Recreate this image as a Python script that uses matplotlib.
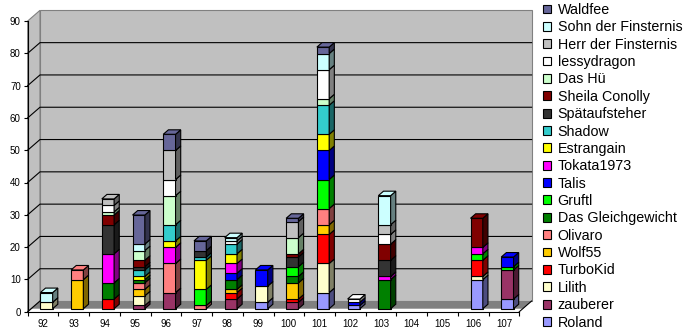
import numpy as np
import matplotlib
matplotlib.use("Agg")
import matplotlib.pyplot as plt
from matplotlib.patches import Polygon, Patch
from matplotlib.colors import to_rgb

plt.rcParams['font.family'] = ['Liberation Sans', 'DejaVu Sans']

categories = [92, 93, 94, 95, 96, 97, 98, 99, 100, 101, 102, 103, 104, 105, 106, 107]

# stacking order, bottom to top
names = ["Roland", "zauberer", "Lilith", "TurboKid", "Wolf55", "Olivaro",
         "Das Gleichgewicht", "Gruftl", "Talis", "Tokata1973", "Estrangain",
         "Shadow", "Spätaufsteher", "Sheila Conolly", "Das Hü", "lessydragon",
         "Herr der Finsternis", "Sohn der Finsternis", "Waldfee"]

roland      = [0, 0, 0, 0, 0, 0, 0, 2, 0, 5, 1, 0, 0, 0, 9, 3]
zauberer    = [0, 0, 0, 1, 5, 0, 3, 0, 2, 0, 0, 0, 0, 0, 0, 9]
lilith      = [2, 0, 0, 3, 0, 0, 0, 5, 0, 9, 0, 0, 0, 0, 1, 0]
turbokid    = [0, 0, 3, 0, 0, 0, 2, 0, 1, 9, 0, 0, 0, 0, 5, 0]
wolf55      = [0, 9, 0, 2, 0, 0, 1, 0, 5, 3, 0, 0, 0, 0, 0, 0]
olivaro     = [0, 3, 0, 2, 9, 1, 0, 0, 0, 5, 0, 0, 0, 0, 0, 0]
gleichgew   = [0, 0, 5, 1, 0, 0, 3, 0, 2, 0, 0, 9, 0, 0, 0, 0]
gruftl      = [0, 0, 0, 0, 0, 5, 0, 0, 3, 9, 0, 0, 0, 0, 2, 1]
talis       = [0, 0, 0, 0, 0, 0, 2, 5, 0, 9, 1, 0, 0, 0, 0, 3]
tokata      = [0, 0, 9, 0, 5, 0, 3, 0, 0, 0, 0, 1, 0, 0, 2, 0]
estrangain  = [0, 0, 0, 1, 2, 9, 3, 0, 0, 5, 0, 0, 0, 0, 0, 0]
shadow      = [0, 0, 0, 2, 5, 1, 3, 0, 0, 9, 0, 0, 0, 0, 0, 0]
spaet       = [0, 0, 9, 1, 0, 2, 0, 0, 3, 0, 0, 5, 0, 0, 0, 0]
sheila      = [0, 0, 3, 2, 0, 0, 0, 0, 1, 0, 0, 5, 0, 0, 9, 0]
dashue      = [0, 0, 1, 3, 9, 0, 0, 0, 5, 2, 0, 0, 0, 0, 0, 0]
lessy       = [0, 0, 2, 0, 5, 0, 1, 0, 0, 9, 1, 3, 0, 0, 0, 0]
herr        = [0, 0, 2, 0, 9, 0, 0, 0, 5, 0, 0, 3, 0, 0, 0, 0]
sohn        = [3, 0, 0, 2, 0, 0, 1, 0, 0, 5, 0, 9, 0, 0, 0, 0]
waldfee     = [0, 0, 0, 9, 5, 3, 0, 0, 1, 2, 0, 0, 0, 0, 0, 0]

series = [roland, zauberer, lilith, turbokid, wolf55, olivaro, gleichgew, gruftl,
          talis, tokata, estrangain, shadow, spaet, sheila, dashue, lessy, herr,
          sohn, waldfee]

colors = ["#9999FF", "#993366", "#FFFFCC", "#FF0000", "#FFCC00", "#FF8080",
          "#008000", "#00FF00", "#0000FF", "#FF00FF", "#FFFF00", "#33CCCC",
          "#333333", "#800000", "#CCFFCC", "#FFFFFF", "#C0C0C0", "#CCFFFF",
          "#666699"]

yticks = list(range(0, 100, 10))

# 3d look: full depth of the box in data units
DX, DY = 0.40, 3.3
BAR_W = 0.40
F0, F1 = 0.28, 0.70   # front / back depth of the bars


def shade(c, k):
    r, g, b = to_rgb(c)
    return (r * k, g * k, b * k)


fig = plt.figure(figsize=(6.9, 3.35), dpi=100)
ax = fig.add_axes([27.7 / 690, 23.3 / 335, 491.6 / 690, 290.7 / 335])
ax.set_xlim(categories[0] - 0.5, categories[-1] + 0.5)
ax.set_ylim(0, 90)
ax.patch.set_visible(False)

x0, x1 = categories[0] - 0.5, categories[-1] + 0.5
wall = "#C0C0C0"
edge = "#808080"

# back wall and left wall
ax.add_patch(Polygon([(x0 + DX, DY), (x1 + DX, DY), (x1 + DX, 90 + DY), (x0 + DX, 90 + DY)],
                     closed=True, fc=wall, ec=edge, lw=0.8, clip_on=False, zorder=1))
ax.add_patch(Polygon([(x0, 0), (x0 + DX, DY), (x0 + DX, 90 + DY), (x0, 90)],
                     closed=True, fc=wall, ec=edge, lw=0.8, clip_on=False, zorder=1))

for v in yticks[1:-1]:
    ax.plot([x0, x0 + DX, x1 + DX], [v, v + DY, v + DY], color="black", lw=0.8,
            clip_on=False, zorder=2)

# floor
ax.add_patch(Polygon([(x0 + F0 * DX, F0 * DY), (x1 + F0 * DX, F0 * DY), (x1 + DX, DY), (x0 + DX, DY)],
                     closed=True, fc="#808080", ec="none", clip_on=False, zorder=3))
ax.plot([x0, x0 + DX], [0, DY], color="black", lw=0.8, clip_on=False, zorder=3)
ax.plot([x1, x1 + DX], [0, DY], color="black", lw=0.8, clip_on=False, zorder=3)

# stacked 3d columns
bx, by = F0 * DX, F0 * DY
sx, sy = (F1 - F0) * DX, (F1 - F0) * DY
z = 4
for i, cat in enumerate(categories):
    left = cat - BAR_W / 2 + bx
    right = left + BAR_W
    base = by
    top_color = None
    for vals, c in zip(series, colors):
        h = vals[i]
        if h == 0:
            continue
        ax.add_patch(Polygon([(left, base), (right, base), (right, base + h), (left, base + h)],
                             closed=True, fc=c, ec="black", lw=0.8, clip_on=False, zorder=z))
        ax.add_patch(Polygon([(right, base), (right + sx, base + sy), (right + sx, base + h + sy), (right, base + h)],
                             closed=True, fc=shade(c, 0.5), ec="black", lw=0.8, clip_on=False, zorder=z))
        base += h
        top_color = c
    if top_color is not None:
        ax.add_patch(Polygon([(left, base), (right, base), (right + sx, base + sy), (left + sx, base + sy)],
                             closed=True, fc=top_color, ec="black", lw=0.8, clip_on=False, zorder=z))
    z += 1

# axes
for s in ["top", "right"]:
    ax.spines[s].set_visible(False)
ax.spines["left"].set_color("black")
ax.spines["bottom"].set_color("black")
ax.spines["left"].set_zorder(50)
ax.spines["bottom"].set_zorder(50)
ax.set_yticks(yticks)
ax.tick_params(axis="y", length=3, width=0.8, labelsize=7, pad=2)
ax.set_xticks(np.arange(x0, x1 + 0.01, 1.0))
ax.set_xticklabels([])
ax.set_xticks(categories, minor=True)
ax.set_xticklabels([str(c) for c in categories], minor=True)
ax.tick_params(axis="x", which="major", length=3, width=0.8)
ax.tick_params(axis="x", which="minor", length=0, labelsize=7, pad=5)

handles = [Patch(fc=c, ec="black", lw=0.8, label=n) for n, c in zip(names, colors)]
fig.legend(handles[::-1], names[::-1], loc="upper left", bbox_to_anchor=(543 / 690, 1 - 3 / 335),
           frameon=False, fontsize=10.3, handlelength=0.58, handleheight=0.58,
           handletextpad=0.45, labelspacing=0.235, borderpad=0, borderaxespad=0)

fig.savefig("out.png", dpi=100)
